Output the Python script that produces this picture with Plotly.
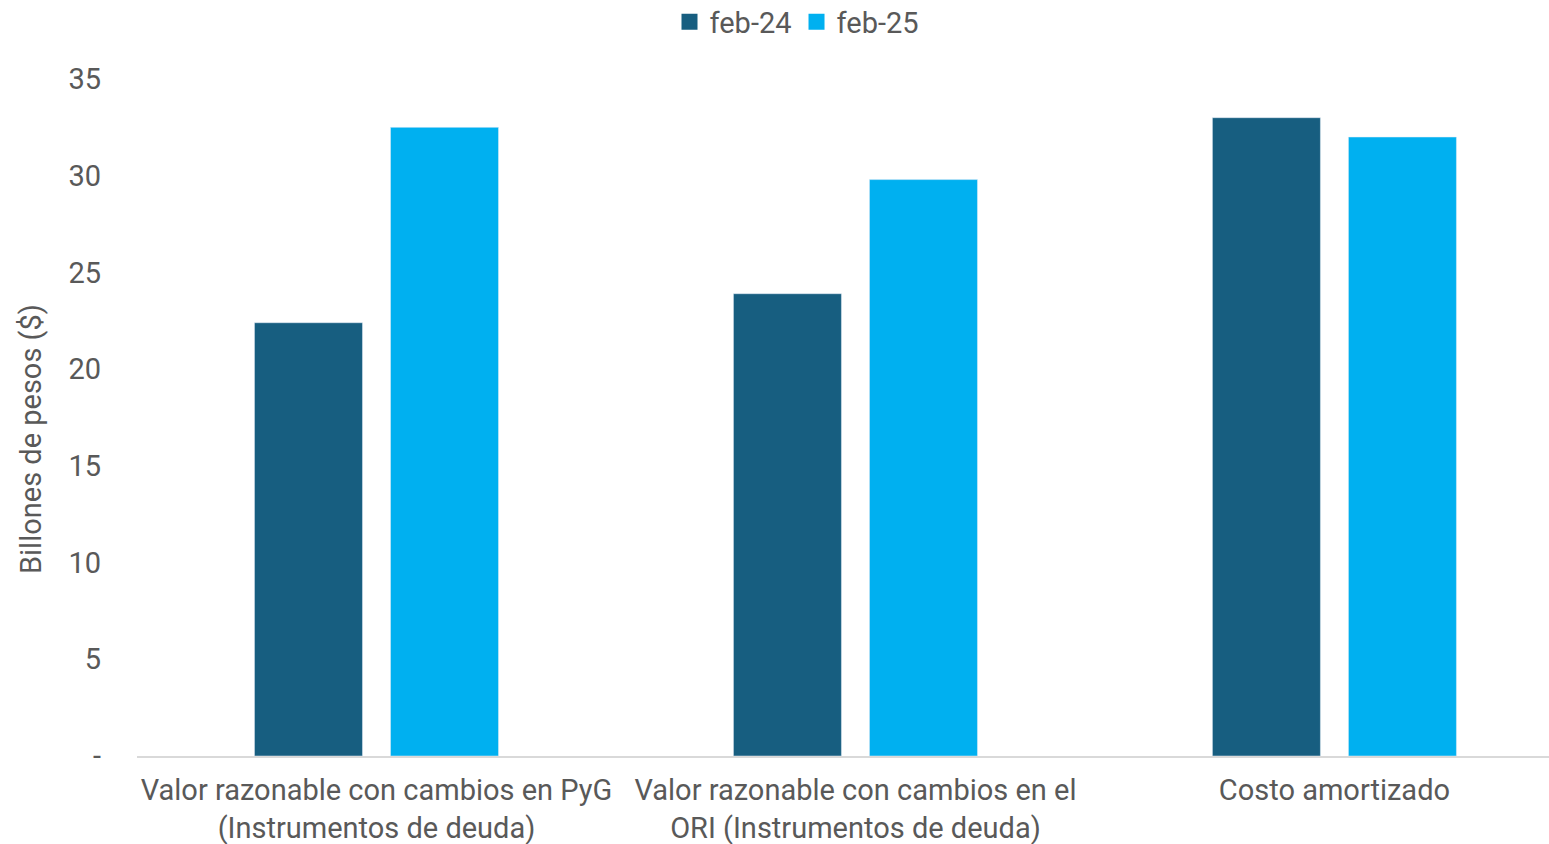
import plotly.graph_objects as go

categories = [
    "Valor razonable con cambios en PyG<br>(Instrumentos de deuda)",
    "Valor razonable con cambios en el<br>ORI (Instrumentos de deuda)",
    "Costo amortizado",
]
feb24 = [22.4, 23.9, 33.0]
feb25 = [32.5, 29.8, 32.0]
tick_vals = [0, 5, 10, 15, 20, 25, 30, 35]
tick_text = ["-", "5", "10", "15", "20", "25", "30", "35"]

FONT = "Roboto"
TEXT = "#595959"
DARK = "#175E80"
LIGHT = "#00B0F0"
SIZE = 29

fig = go.Figure()
fig.add_trace(go.Bar(name="feb-24", x=categories, y=feb24, marker_color=DARK, showlegend=False))
fig.add_trace(go.Bar(name="feb-25", x=categories, y=feb25, marker_color=LIGHT, showlegend=False))

# legend entries with larger square swatches
for name, color in (("feb-24", DARK), ("feb-25", LIGHT)):
    fig.add_trace(go.Scatter(
        name=name, x=[None], y=[None], mode="markers",
        marker=dict(symbol="square", size=17, color=color),
        showlegend=True,
    ))

fig.add_annotation(
    text="Billones de pesos ($)",
    xref="paper", yref="paper",
    x=-(137 - 31) / 1412, y=(756 - 439) / 677,
    xanchor="center", yanchor="middle",
    textangle=-90, showarrow=False,
    font=dict(family=FONT, size=SIZE, color=TEXT),
)

fig.update_layout(
    width=1549,
    height=844,
    barmode="group",
    bargap=0.432,
    bargroupgap=0.206,
    plot_bgcolor="white",
    paper_bgcolor="white",
    font=dict(family=FONT, size=SIZE, color=TEXT),
    margin=dict(l=137, r=0, t=79, b=88, autoexpand=False),
    legend=dict(
        orientation="h",
        x=(797 - 137) / 1412,
        xanchor="center",
        y=(756 - 22) / 677,
        yref="paper",
        yanchor="middle",
        font=dict(size=SIZE, color=TEXT),
        itemwidth=30,
        traceorder="normal",
        tracegroupgap=0,
    ),
    xaxis=dict(
        range=[-0.5, 2.448],
        showline=True,
        linecolor="#D9D9D9",
        linewidth=2,
        ticks="",
        ticklabelstandoff=7,
        automargin=False,
        tickfont=dict(size=SIZE, color=TEXT),
    ),
    yaxis=dict(
        range=[0, 35],
        tickvals=tick_vals,
        ticktext=tick_text,
        showgrid=False,
        zeroline=False,
        ticks="",
        ticklabelstandoff=35,
        automargin=False,
        tickfont=dict(size=SIZE, color=TEXT),
    ),
)

fig.write_html("out.html")
